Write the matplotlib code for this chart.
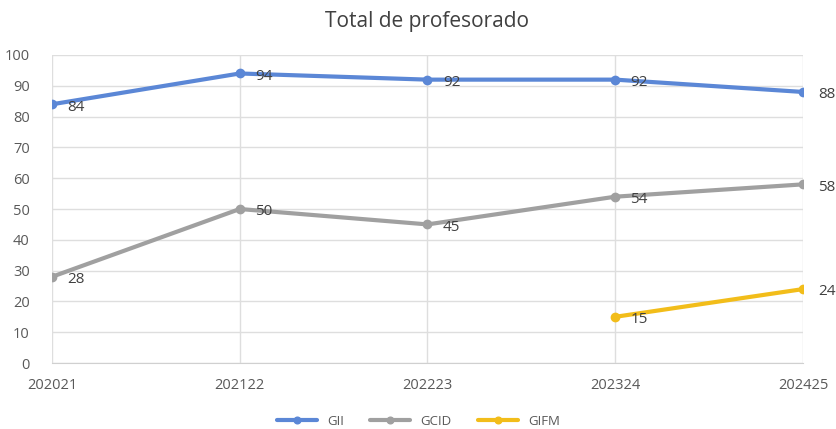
import numpy as np
import matplotlib.pyplot as plt

years = ["202021", "202122", "202223", "202324", "202425"]
gii = [84, 94, 92, 92, 88]
gcid = [28, 50, 45, 54, 58]
gifm = [np.nan, np.nan, np.nan, 15, 24]

series = [("GII", gii, "#5B87D6"), ("GCID", gcid, "#A0A0A0"), ("GIFM", gifm, "#F2BD1A")]

plt.rcParams['font.family'] = ['Open Sans', 'DejaVu Sans']

fig = plt.figure(figsize=(8.37, 4.29), dpi=100)
ax = fig.add_axes([0.0621, 0.1538, 0.8973, 0.718])

x = np.arange(len(years))
for name, vals, col in series:
    ax.plot(x, vals, color=col, linewidth=3, marker="o", markersize=6, label=name,
            solid_capstyle="round", zorder=3)
    for xi, v in zip(x, vals):
        if np.isnan(v):
            continue
        ax.annotate(f"{v:g}", (xi, v), xytext=(11, -2), textcoords="offset points",
                    ha="left", va="center", fontsize=11, color="#404040", zorder=4)

ax.set_xlim(0, len(years) - 1)
ax.set_ylim(0, 100)
ax.set_yticks(np.arange(0, 101, 10))
ax.set_xticks(x)
ax.set_xticklabels(years)
ax.grid(True, color="#DEDEDE", linewidth=1)
ax.set_axisbelow(True)
for s in ["top", "right", "left"]:
    ax.spines[s].set_visible(False)
ax.spines["bottom"].set_color("#D0D0D0")
ax.tick_params(length=0, labelsize=10.5, colors="#595959")
ax.tick_params(axis="x", pad=11)
ax.tick_params(axis="y", pad=16)

ax.set_title("Total de profesorado", fontsize=15, color="#404040", pad=20)

fig.legend(loc="lower center", ncol=3, frameon=False, fontsize=9.5,
           bbox_to_anchor=(0.5, -0.025), handlelength=3, markerscale=0.8,
           labelcolor="#595959")

fig.savefig("out.png", dpi=100)
